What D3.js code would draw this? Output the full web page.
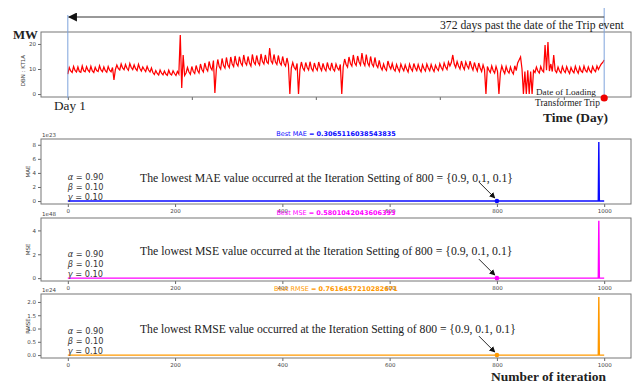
<!DOCTYPE html>
<meta charset="utf-8">
<script src="https://d3js.org/d3.v7.min.js"></script>
<style>
  body { margin: 0; background: #fff; }
  svg { display: block; }
  .tick text { font-family: 'DejaVu Sans', sans-serif; font-size: 5.5px; fill: #444; }
  .tick line { stroke: #666; }
  .domain { display: none; }
  .serif { font-family: 'Liberation Serif', 'Times New Roman', serif; fill: #222; }
  .sans { font-family: 'DejaVu Sans', sans-serif; }
</style>
<body>
<svg width="636" height="386"></svg>
<script>
// loading of the transformer (MW), one reading per day, day 0 .. 372
var loadMW = [
  8.0, 10.6, 9.2, 8.6, 11.0, 9.4, 8.8, 10.8, 9.0, 8.7,
  11.2, 9.3, 8.9, 10.9, 9.5, 8.8, 11.1, 9.2, 8.6, 10.7,
  9.4, 9.0, 11.3, 9.6, 8.9, 10.8, 9.3, 8.7, 11.0, 9.5,
  8.9, 10.6, 5.6, 9.8, 11.6, 10.2, 9.6, 12.0, 10.4, 9.7,
  11.8, 10.3, 9.5, 12.2, 10.6, 9.8, 11.6, 10.1, 9.4, 11.9,
  10.2, 9.2, 10.8, 9.8, 9.0, 11.0, 9.6, 8.8, 10.4, 8.6,
  7.8, 9.4, 8.2, 7.6, 9.6, 8.3, 7.7, 9.2, 8.0, 7.5,
  9.5, 8.1, 7.6, 9.3, 8.2, 7.4, 9.0, 8.0, 23.6, 2.4,
  15.6, 7.4, 8.4, 10.6, 8.8, 7.9, 11.0, 9.0, 8.2, 11.4,
  9.4, 8.4, 12.0, 9.8, 8.8, 12.4, 10.2, 9.2, 13.0, 10.6,
  9.6, 13.4, 0.4, 9.8, 13.8, 11.0, 10.0, 14.2, 11.4, 10.4,
  14.6, 11.6, 10.6, 14.8, 12.0, 11.0, 15.2, 12.2, 11.2, 14.9,
  12.4, 11.4, 15.6, 12.6, 11.6, 15.0, 12.4, 11.2, 15.8, 12.8,
  11.8, 15.4, 12.6, 11.6, 16.0, 13.0, 12.0, 15.6, 12.8, 12.2,
  18.4, 13.2, 12.2, 15.8, 12.8, 11.8, 15.4, 12.6, 11.6, 15.0,
  12.2, 11.2, 14.4, 11.8, 0.0, 10.4, 12.6, 10.6, 9.8, 12.2,
  0.0, 9.8, 12.8, 10.4, 9.4, 12.6, 10.6, 9.6, 12.9, 10.2,
  9.2, 12.4, 10.4, 9.5, 12.8, 10.6, 9.4, 12.2, 10.2, 9.3,
  12.6, 10.4, 9.6, 12.4, 10.0, 9.2, 12.0, 10.4, 9.6, 11.8,
  0.0, 10.8, 14.0, 11.8, 10.8, 14.8, 12.2, 11.2, 15.6, 12.4,
  11.4, 15.2, 12.8, 11.6, 16.4, 12.6, 11.4, 15.8, 12.4, 11.2,
  15.0, 12.0, 11.0, 14.6, 11.6, 10.6, 13.4, 10.8, 9.6, 12.0,
  10.2, 9.4, 13.2, 11.2, 10.0, 12.2, 10.0, 9.2, 11.8, 10.2,
  9.0, 12.0, 10.4, 9.3, 11.6, 10.0, 8.8, 11.9, 10.2, 9.2,
  12.2, 10.4, 9.4, 11.8, 10.0, 8.9, 11.7, 10.2, 9.2, 12.0,
  10.4, 9.3, 11.8, 10.1, 9.0, 11.5, 10.2, 9.4, 12.1, 10.6,
  9.6, 12.4, 10.8, 9.8, 12.8, 11.2, 12.6, 15.6, 12.0, 10.6,
  13.0, 11.2, 10.0, 13.2, 11.0, 9.8, 12.8, 11.2, 10.2, 13.1,
  11.0, 9.6, 12.6, 10.6, 9.2, 12.4, 10.4, 9.0, 11.6, 9.8,
  0.0, 11.0, 9.6, 8.6, 11.2, 9.4, 8.4, 11.0, 9.2, 0.0,
  8.4, 11.2, 9.4, 8.2, 11.0, 9.2, 8.4, 10.8, 9.0, 8.0,
  11.3, 9.4, 12.4, 13.6, 14.8, 10.0, 0.0, 9.0, 0.0, 9.5,
  0.0, 9.0, 0.0, 9.4, 8.6, 10.8, 9.2, 8.4, 11.0, 9.4,
  8.8, 19.6, 9.5, 20.8, 9.2, 12.0, 9.0, 15.6, 9.4, 8.6,
  10.8, 9.2, 8.4, 11.0, 9.4, 8.6, 10.9, 9.3, 8.2, 10.6,
  9.2, 8.5, 11.1, 9.4, 8.3, 10.8, 9.2, 8.7, 11.2, 9.4,
  8.8, 10.8, 9.3, 8.6, 11.0, 9.6, 8.9, 11.2, 9.8, 11.0,
  12.0, 12.6, 13.6
];
var totalDays = 372;
var dayTicks = [0, 86, 172, 258, 344];
var mwTicks = [0, 10, 20];

// error per iteration of the search
var lossIter = [0, 800, 989, 990, 991, 1000];
var maeVals = [0.41, 0.3065116038543835, 0.33, 8.4e23, 0.35, 0.32];
var mseVals = [0.77, 0.5801042043606392, 0.61, 4.8e48, 0.63, 0.60];
var rmseVals = [0.88, 0.7616457210282671, 0.79, 2.19e24, 0.80, 0.78];
var iterTicks = [0, 200, 400, 600, 800, 1000];
var maeTicks = [0, 2, 4, 6, 8];
var mseTicks = [0, 2, 4];
var rmseTicks = [0, 0.5, 1.0, 1.5, 2.0];
var bestIter = 800;
var bestSetting = ["0.9", "0.1", "0.1"];
var paramNames = ["α", "β", "γ"];
var paramVals = ["0.90", "0.10", "0.10"];

var svg = d3.select("svg");
var left = 41, right = 631;

// shrink / grow a text so it covers a given width
function fit(t, w) {
  var len = t.node().getComputedTextLength();
  t.attr("font-size", parseFloat(t.attr("font-size")) * w / len);
  return t;
}

var defs = svg.append("defs");
defs.append("marker").attr("id", "head")
  .attr("viewBox", "0 0 10 10").attr("refX", 9).attr("refY", 5)
  .attr("markerWidth", 6).attr("markerHeight", 6)
  .attr("markerUnits", "userSpaceOnUse")
  .attr("orient", "auto")
  .append("path").attr("d", "M0,0L10,5L0,10z").attr("fill", "#111");
defs.append("marker").attr("id", "bighead")
  .attr("viewBox", "0 0 10 10").attr("refX", 9).attr("refY", 5)
  .attr("markerWidth", 11).attr("markerHeight", 9)
  .attr("markerUnits", "userSpaceOnUse")
  .attr("orient", "auto")
  .append("path").attr("d", "M0,0L10,5L0,10z").attr("fill", "#111");

// ---------- top panel: load ----------
var topY0 = 32, topY1 = 97;
var xDay = d3.scaleLinear()
  .domain([-0.05 * totalDays, 1.05 * totalDays])
  .range([left, right]);
var mwMax = d3.max(loadMW);
var yMW = d3.scaleLinear()
  .domain([-0.05 * mwMax, 1.05 * mwMax])
  .range([topY1, topY0]);

svg.append("g").attr("transform", "translate(" + left + ",0)")
  .call(d3.axisLeft(yMW).tickValues(mwTicks).tickSize(3).tickPadding(2));
svg.append("g").attr("transform", "translate(0," + topY1 + ")")
  .call(d3.axisBottom(xDay).tickValues(dayTicks).tickSize(3).tickFormat(""));

var step = totalDays / (loadMW.length - 1);
svg.append("path")
  .datum(loadMW)
  .attr("fill", "none")
  .attr("stroke", "#ff0000")
  .attr("stroke-width", 1.25)
  .attr("d", d3.line()
    .x(function (d, i) { return xDay(i * step); })
    .y(function (d) { return yMW(d); }));

svg.append("rect")
  .attr("x", left).attr("y", topY0)
  .attr("width", right - left).attr("height", topY1 - topY0)
  .attr("fill", "none").attr("stroke", "#777").attr("stroke-width", 1);

svg.append("text").attr("class", "sans")
  .attr("transform", "translate(25," + ((topY0 + topY1) / 2 + 6) + ") rotate(-90)")
  .attr("text-anchor", "middle").attr("font-size", 5.5).attr("fill", "#444")
  .text("DBN : KT1A");

// day markers
[0, totalDays].forEach(function (d, i) {
  svg.append("line")
    .attr("x1", xDay(d)).attr("x2", xDay(d))
    .attr("y1", i == 0 ? 15 : 8).attr("y2", topY1 + 1)
    .attr("stroke", "#7ea4dc").attr("stroke-width", 1);
});
svg.append("line")
  .attr("x1", xDay(totalDays)).attr("x2", xDay(0) + 1)
  .attr("y1", 17).attr("y2", 17)
  .attr("stroke", "#333").attr("stroke-width", 1)
  .attr("marker-end", "url(#bighead)");
svg.append("circle")
  .attr("cx", xDay(totalDays)).attr("cy", topY1 + 1).attr("r", 3.6)
  .attr("fill", "#ee0000");

fit(svg.append("text").attr("class", "serif").attr("x", 440).attr("y", 29)
  .attr("font-size", 13).text("372 days past the date of the Trip event"), 184);
fit(svg.append("text").attr("class", "serif").attr("x", 13).attr("y", 39)
  .attr("font-size", 14).attr("font-weight", "bold").attr("fill", "#000").text("MW"), 25);
fit(svg.append("text").attr("class", "serif").attr("x", 54).attr("y", 110)
  .attr("font-size", 13).text("Day 1"), 32);
fit(svg.append("text").attr("class", "serif").attr("x", 536).attr("y", 95)
  .attr("font-size", 10).text("Date of Loading"), 60);
fit(svg.append("text").attr("class", "serif").attr("x", 535).attr("y", 106)
  .attr("font-size", 10).text("Transformer Trip"), 65);
fit(svg.append("text").attr("class", "serif").attr("x", 543).attr("y", 122)
  .attr("font-size", 15).attr("font-weight", "bold").attr("fill", "#000").text("Time (Day)"), 65);

// ---------- error panels ----------
var xIt = d3.scaleLinear().domain([-50, 1050]).range([left, right]);

var panels = [
  { name: "MAE", vals: maeVals, ticks: maeTicks, exp: 23, color: "#0a0aff", y0: 139, y1: 204, textY: 178, parY: 177, fmt: d3.format("d") },
  { name: "MSE", vals: mseVals, ticks: mseTicks, exp: 48, color: "#ff00ff", y0: 218, y1: 281, textY: 251, parY: 254, fmt: d3.format("d") },
  { name: "RMSE", vals: rmseVals, ticks: rmseTicks, exp: 24, color: "#ff9900", y0: 294, y1: 358, textY: 329, parY: 331, fmt: d3.format(".1f") }
];

panels.forEach(function (p) {
  var scale = Math.pow(10, p.exp);
  var m = d3.max(p.vals);
  var y = d3.scaleLinear().domain([-0.05 * m, 1.05 * m]).range([p.y1, p.y0]);

  svg.append("g").attr("transform", "translate(" + left + ",0)")
    .call(d3.axisLeft(y).tickValues(p.ticks.map(function (v) { return v * scale; }))
      .tickSize(3).tickPadding(2)
      .tickFormat(function (v) { return p.fmt(v / scale); }));
  svg.append("g").attr("transform", "translate(0," + p.y1 + ")")
    .call(d3.axisBottom(xIt).tickValues(iterTicks).tickSize(3).tickPadding(2)
      .tickFormat(d3.format("d")));

  svg.append("path")
    .datum(p.vals)
    .attr("fill", "none")
    .attr("stroke", p.color)
    .attr("stroke-width", 1.4)
    .attr("d", d3.line()
      .x(function (d, i) { return xIt(lossIter[i]); })
      .y(function (d) { return y(d); }));

  var bi = lossIter.indexOf(bestIter);
  var bx = xIt(bestIter), by = y(p.vals[bi]);
  svg.append("circle").attr("cx", bx).attr("cy", by).attr("r", 2.3).attr("fill", p.color);

  svg.append("rect")
    .attr("x", left).attr("y", p.y0)
    .attr("width", right - left).attr("height", p.y1 - p.y0)
    .attr("fill", "none").attr("stroke", "#777").attr("stroke-width", 1);

  // title
  var title = svg.append("text").attr("class", "sans")
    .attr("x", (left + right) / 2).attr("y", p.y0 - 3)
    .attr("text-anchor", "middle").attr("font-size", 6.5).attr("fill", p.color);
  title.append("tspan").text("Best " + p.name + " = ");
  title.append("tspan").attr("font-weight", "bold").text(String(p.vals[bi]));

  svg.append("text").attr("class", "sans")
    .attr("x", left + 1).attr("y", p.y0 - 2)
    .attr("font-size", 5.5).attr("fill", "#444").text("1e" + p.exp);

  svg.append("text").attr("class", "sans")
    .attr("transform", "translate(30," + ((p.y0 + p.y1) / 2) + ") rotate(-90)")
    .attr("text-anchor", "middle").attr("font-size", 5.5).attr("fill", "#444")
    .text(p.name);

  // smoothing parameters
  paramNames.forEach(function (n, k) {
    var t = svg.append("text").attr("class", "sans")
      .attr("x", xIt(0)).attr("y", p.parY + k * 10)
      .attr("dy", "0.35em").attr("font-size", 8.2).attr("fill", "#333");
    t.append("tspan").attr("font-style", "italic").text(n);
    t.append("tspan").text(" = " + paramVals[k]);
  });

  fit(svg.append("text").attr("class", "serif")
    .attr("x", 140).attr("y", p.textY).attr("dy", "0.35em").attr("font-size", 12)
    .text("The lowest " + p.name + " value occurred at the Iteration Setting of " + bestIter +
      " = {" + bestSetting.join(", ") + "}"), p.name == "RMSE" ? 376 : 373);

  svg.append("line")
    .attr("x1", bx - 18).attr("y1", by - 19)
    .attr("x2", bx - 2).attr("y2", by - 3)
    .attr("stroke", "#111").attr("stroke-width", 0.9)
    .attr("marker-end", "url(#head)");
});

fit(svg.append("text").attr("class", "serif").attr("x", 491).attr("y", 381)
  .attr("font-size", 15).attr("font-weight", "bold").attr("fill", "#000").text("Number of iteration"), 115);
</script>
</body>
